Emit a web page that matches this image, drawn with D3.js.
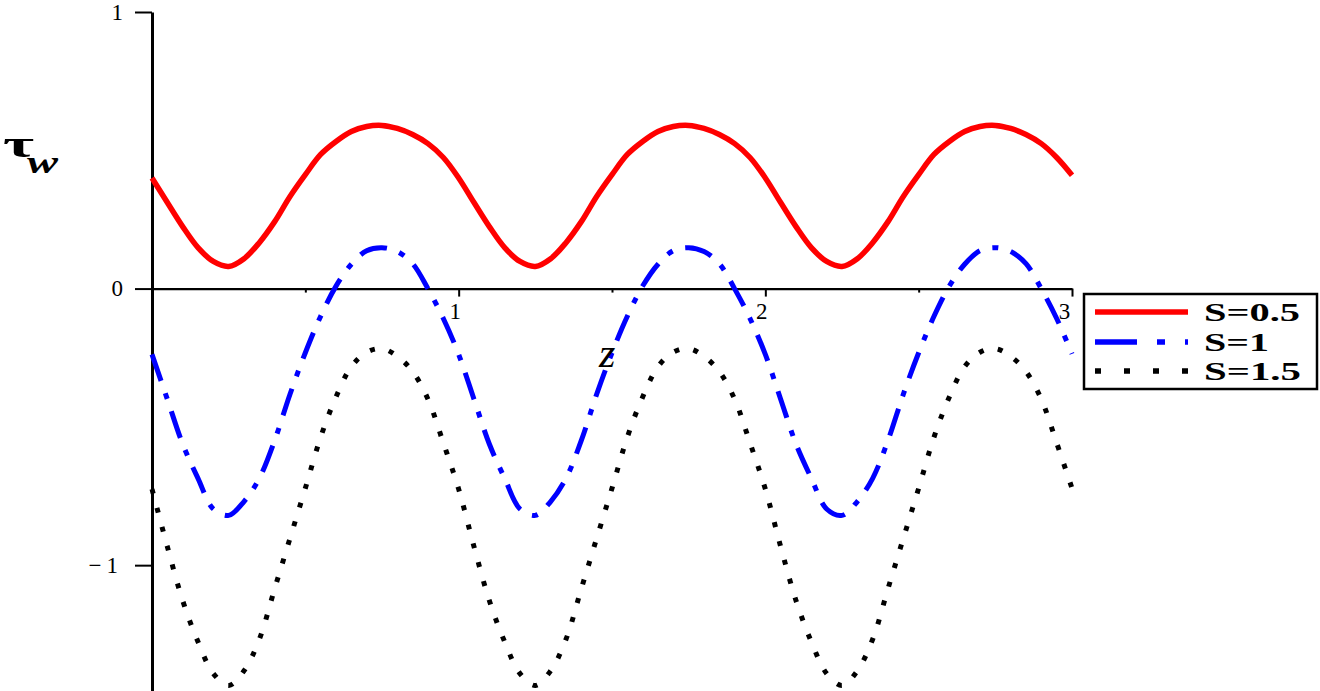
<!DOCTYPE html>
<html>
<head>
<meta charset="utf-8">
<script src="https://cdn.jsdelivr.net/npm/d3@7"></script>
<style>
  body { margin: 0; background: #fff; }
  svg { display: block; }
</style>
</head>
<body>
<div id="chart"></div>
<script>
// z positions of the samples
var zValues = [0, 0.05, 0.1, 0.15, 0.2, 0.25, 0.3, 0.35, 0.4, 0.45, 0.5, 0.55, 0.6, 0.65, 0.7, 0.75, 0.8, 0.85, 0.9, 0.95,
  1, 1.05, 1.1, 1.15, 1.2, 1.25, 1.3, 1.35, 1.4, 1.45, 1.5, 1.55, 1.6, 1.65, 1.7, 1.75, 1.8, 1.85, 1.9, 1.95,
  2, 2.05, 2.1, 2.15, 2.2, 2.25, 2.3, 2.35, 2.4, 2.45, 2.5, 2.55, 2.6, 2.65, 2.7, 2.75, 2.8, 2.85, 2.9, 2.95, 3];

var tauS05 = [0.400, 0.311, 0.224, 0.148, 0.098, 0.080, 0.108, 0.166, 0.242, 0.333, 0.412, 0.485, 0.532, 0.568, 0.586, 0.590, 0.579, 0.557, 0.524, 0.474,
  0.400, 0.311, 0.224, 0.148, 0.098, 0.080, 0.108, 0.166, 0.242, 0.333, 0.412, 0.485, 0.532, 0.568, 0.586, 0.590, 0.579, 0.557, 0.524, 0.474,
  0.400, 0.311, 0.224, 0.148, 0.098, 0.080, 0.108, 0.166, 0.242, 0.333, 0.412, 0.485, 0.532, 0.568, 0.586, 0.590, 0.579, 0.557, 0.524, 0.474, 0.410];

var tauS1 = [-0.238, -0.400, -0.562, -0.686, -0.797, -0.820, -0.770, -0.686, -0.549, -0.382, -0.232, -0.100, 0.009, 0.088, 0.137, 0.148, 0.134, 0.090, -0.001, -0.108,
  -0.238, -0.400, -0.562, -0.686, -0.797, -0.820, -0.770, -0.686, -0.549, -0.382, -0.232, -0.100, 0.009, 0.088, 0.137, 0.148, 0.134, 0.090, -0.001, -0.108,
  -0.238, -0.400, -0.562, -0.686, -0.797, -0.820, -0.770, -0.686, -0.549, -0.382, -0.232, -0.100, 0.009, 0.088, 0.137, 0.148, 0.134, 0.090, -0.001, -0.108, -0.236];

var tauS15 = [-0.725, -0.933, -1.128, -1.277, -1.392, -1.435, -1.382, -1.268, -1.085, -0.903, -0.722, -0.537, -0.392, -0.282, -0.230, -0.217, -0.245, -0.300, -0.400, -0.558,
  -0.725, -0.933, -1.128, -1.277, -1.392, -1.435, -1.382, -1.268, -1.085, -0.903, -0.722, -0.537, -0.392, -0.282, -0.230, -0.217, -0.245, -0.300, -0.400, -0.558,
  -0.725, -0.933, -1.128, -1.277, -1.392, -1.435, -1.382, -1.268, -1.085, -0.903, -0.722, -0.537, -0.392, -0.282, -0.230, -0.217, -0.245, -0.300, -0.400, -0.558, -0.722];

var seriesNames = ["S=0.5", "S=1", "S=1.5"];
var xTicks = [1, 2, 3];
var xMinorTicks = [0.5, 1.5, 2.5];
var yTicks = [-1, 0, 1];

var width = 1320;
var height = 691;

var svg = d3.select("#chart")
  .append("svg")
  .attr("width", width)
  .attr("height", height)
  .style("background", "#fff");

var x = d3.scaleLinear().domain([0, 3]).range([152, 1072]);
var y = d3.scaleLinear().domain([-1.455, 1]).range([691, 12]);

var styles = [
  { color: "#ff0000", dash: null, legendDash: null },
  { color: "#0000ff", dash: "28,13,6,13", legendDash: "42,20,8,20,3,40" },
  { color: "#000000", dash: "5,14.5", legendDash: "6,23" }
];

// axes
var xAxis = d3.axisBottom(x)
  .tickValues(xTicks)
  .tickSize(8)
  .tickSizeOuter(0)
  .tickPadding(6)
  .tickFormat(d3.format("d"));

var gx = svg.append("g")
  .attr("transform", "translate(0," + y(0) + ")")
  .call(xAxis);
gx.select(".domain").attr("stroke-width", 2.2);
gx.selectAll(".tick line").attr("stroke-width", 2);
gx.selectAll(".tick text")
  .attr("font-family", "Liberation Serif, serif")
  .attr("font-size", 23)
  .attr("dx", function (d) { return d === 3 ? -8 : -4; })
  .attr("fill", "#000");

svg.append("g")
  .attr("transform", "translate(0," + y(0) + ")")
  .call(d3.axisBottom(x).tickValues(xMinorTicks).tickSize(4).tickSizeOuter(0).tickFormat(""))
  .call(function (g) {
    g.select(".domain").remove();
    g.selectAll(".tick line").attr("stroke-width", 2);
  });

var yAxis = d3.axisLeft(y)
  .tickValues(yTicks)
  .tickSize(17)
  .tickSizeOuter(0)
  .tickPadding(12)
  .tickFormat(d3.format("d"));

var gy = svg.append("g")
  .attr("transform", "translate(" + x(0) + ",0)")
  .call(yAxis);
gy.select(".domain").attr("stroke-width", 3);
gy.selectAll(".tick line").attr("stroke-width", 2);
gy.selectAll(".tick text")
  .attr("font-family", "Liberation Serif, serif")
  .attr("font-size", 23)
  .attr("letter-spacing", function (d) { return d < 0 ? 5 : 0; })
  .attr("fill", "#000");

// curves
var line = d3.line()
  .x(function (d) { return x(d[0]); })
  .y(function (d) { return y(d[1]); })
  .curve(d3.curveCatmullRom);

var allSeries = [tauS05, tauS1, tauS15];

allSeries.forEach(function (vals, i) {
  var pts = zValues.map(function (z, k) { return [z, vals[k]]; });
  svg.append("path")
    .datum(pts)
    .attr("d", line)
    .attr("fill", "none")
    .attr("stroke", styles[i].color)
    .attr("stroke-width", i === 0 ? 5.5 : 5)
    .attr("stroke-linecap", "butt")
    .attr("stroke-dasharray", styles[i].dash);
});

// axis labels
var tauLabel = svg.append("text")
  .attr("font-family", "Liberation Serif, serif")
  .attr("font-weight", "bold")
  .attr("fill", "#000");
tauLabel.append("tspan")
  .attr("x", 3)
  .attr("y", 157)
  .attr("font-size", 38)
  .attr("textLength", 31)
  .attr("lengthAdjust", "spacingAndGlyphs")
  .text("τ");
tauLabel.append("tspan")
  .attr("x", 27)
  .attr("y", 173)
  .attr("font-size", 32)
  .attr("font-style", "italic")
  .attr("textLength", 31)
  .attr("lengthAdjust", "spacingAndGlyphs")
  .text("w");

svg.append("text")
  .attr("x", 599)
  .attr("y", 367)
  .attr("font-family", "Liberation Serif, serif")
  .attr("font-style", "italic")
  .attr("font-size", 42)
  .attr("fill", "#000")
  .text("z");

// legend
var legend = svg.append("g");
legend.append("rect")
  .attr("x", 1084)
  .attr("y", 294)
  .attr("width", 233)
  .attr("height", 95)
  .attr("fill", "#fff")
  .attr("stroke", "#000")
  .attr("stroke-width", 2.5);

var rowY = [312, 342, 371];
var textLen = [96, 65, 97];

seriesNames.forEach(function (name, i) {
  legend.append("line")
    .attr("x1", 1095)
    .attr("x2", 1188)
    .attr("y1", rowY[i])
    .attr("y2", rowY[i])
    .attr("stroke", styles[i].color)
    .attr("stroke-width", 5.5)
    .attr("stroke-dasharray", styles[i].legendDash);
  legend.append("text")
    .attr("x", 1204)
    .attr("y", rowY[i] + 9)
    .attr("font-family", "Liberation Serif, serif")
    .attr("font-weight", "bold")
    .attr("font-size", 25)
    .attr("textLength", textLen[i])
    .attr("lengthAdjust", "spacingAndGlyphs")
    .attr("fill", "#000")
    .text(name);
});
</script>
</body>
</html>
